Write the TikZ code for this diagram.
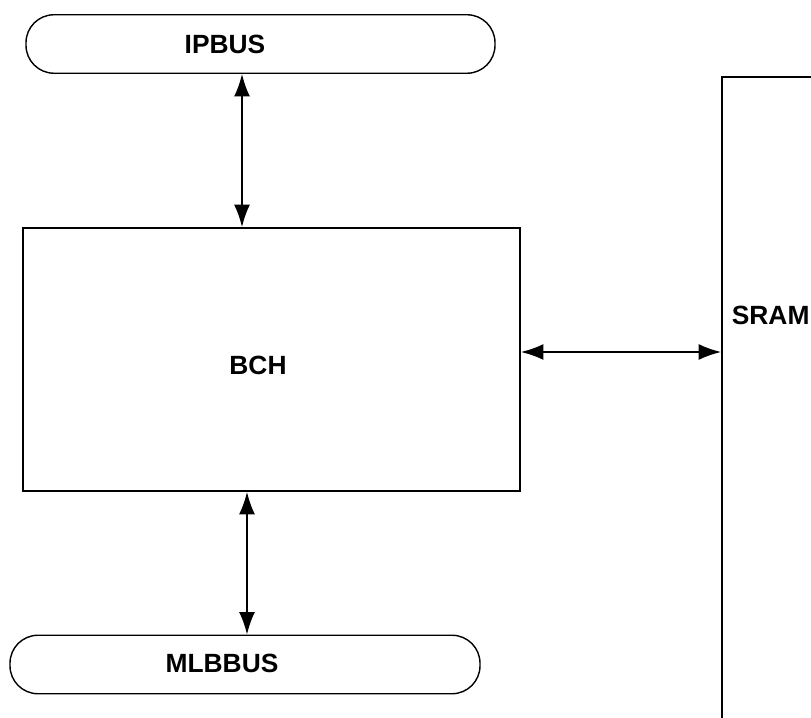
\documentclass[tikz,border=0pt]{standalone}
\usepackage{fontspec}
\setsansfont{Liberation Sans}
\usetikzlibrary{positioning,calc,arrows.meta}

\begin{document}
\begin{tikzpicture}[font=\sffamily\bfseries\fontsize{15}{18}\selectfont,
  bus/.style={draw, line width=0.8pt, rounded corners=0.56cm, minimum height=1.17cm, inner sep=0pt},
  block/.style={draw, line width=1pt, inner sep=0pt},
  biarrow/.style={line width=1pt, {Latex[length=0.45cm,width=0.32cm]}-{Latex[length=0.45cm,width=0.32cm]}}]
  \useasboundingbox (0,0) rectangle (16.22,-14.36);
  \clip (0,0) rectangle (16.22,-14.36);
  % ---- buses ----
  \node[bus, minimum width=9.38cm] (ipbus) at (5.21,-0.88) {};
  \node (ipbuslbl) at (4.5,-0.88) {IPBUS};
  \node[bus, minimum width=9.4cm] (mlbbus) at (4.9,-13.29) {};
  \node (mlbbuslbl) at (4.44,-13.27) {MLBBUS};
  % ---- blocks ----
  \node[block, minimum width=6cm, minimum height=16cm] (sram) at (17.44,-9.54) {};
  \node[block, minimum width=9.94cm, minimum height=5.26cm] (bch) at (5.43,-7.19) {};
  \node (bchlbl) at (5.16,-7.3) {BCH};
  \node[anchor=west, inner sep=0pt] (sramlbl) at (14.63,-6.3) {SRAM};
  % ---- connectors ----
  \coordinate (ax) at (4.84,0);
  \coordinate (bx) at (4.94,0);
  \draw[biarrow] (ipbus.south -| ax) -- (bch.north -| ax);
  \draw[biarrow] (bch.south -| bx) -- (mlbbus.north -| bx);
  \draw[biarrow] ([yshift=0.15cm]bch.east) -- ([yshift=0.15cm]bch.east -| sram.west);
\end{tikzpicture}
\end{document}
